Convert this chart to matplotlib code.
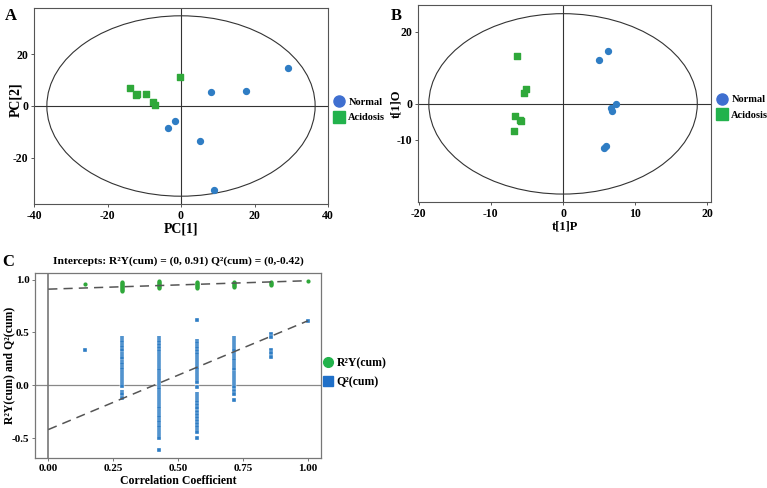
import numpy as np
import matplotlib.pyplot as plt
from matplotlib.patches import Ellipse
from matplotlib.lines import Line2D

plt.rcParams['font.family'] = ['Liberation Serif', 'DejaVu Serif']
plt.rcParams['font.weight'] = 'bold'
plt.rcParams['axes.labelweight'] = 'bold'
plt.rcParams['axes.unicode_minus'] = False

# panel A: PCA scores
pca_normal_x = [29.2, 8.2, 17.7, -1.5, -3.6, 5.1, 8.9]
pca_normal_y = [14.8, 5.2, 5.9, -5.7, -8.3, -13.5, -32.2]
pca_acid_x = [-0.2, -13.8, -12.3, -12.0, -9.5, -7.5, -7.2]
pca_acid_y = [11.2, 7.0, 4.2, 4.5, 4.6, 1.7, 0.4]
pca_ellipse = (36.5, 34.7)

# panel B: OPLS-DA scores
opls_normal_x = [6.2, 5.0, 7.3, 6.7, 6.8, 6.0, 5.7]
opls_normal_y = [14.7, 12.2, 0.0, -1.2, -2.1, -11.8, -12.1]
opls_acid_x = [-6.4, -5.2, -5.4, -6.7, -6.0, -5.8, -6.8]
opls_acid_y = [13.2, 4.0, 2.9, -3.5, -4.5, -4.8, -7.4]
opls_ellipse = (18.6, 25.0)

# panel C: permutation test
corr_levels = [1/7, 2/7, 3/7, 4/7, 5/7, 6/7, 1.0]
r2y_cols = [
    [0.96],
    [0.98, 0.97, 0.96, 0.95, 0.94, 0.93, 0.92, 0.91, 0.90, 0.89],
    [0.99, 0.98, 0.97, 0.96, 0.95, 0.94, 0.93, 0.92],
    [0.98, 0.97, 0.96, 0.95, 0.94, 0.93, 0.92],
    [0.98, 0.97, 0.96, 0.95, 0.94, 0.93],
    [0.98, 0.97, 0.96, 0.95],
    [0.99],
]
q2_cols = [
    [0.33],
    [0.45, 0.43, 0.41, 0.38, 0.36, 0.33, 0.30, 0.28, 0.26, 0.22, 0.20, 0.17,
     0.15, 0.13, 0.11, 0.09, 0.07, 0.05, 0.03, 0.01, -0.01, -0.06, -0.08, -0.12],
    [0.45, 0.43, 0.41, 0.38, 0.35, 0.32, 0.30, 0.28, 0.26, 0.24, 0.22, 0.20,
     0.18, 0.16, 0.14, 0.12, 0.10, 0.08, 0.06, 0.04, 0.02, 0.00, -0.02, -0.04,
     -0.06, -0.08, -0.10, -0.12, -0.14, -0.16, -0.18, -0.20, -0.22, -0.24,
     -0.26, -0.28, -0.30, -0.33, -0.35, -0.38, -0.40, -0.42, -0.44, -0.46,
     -0.48, -0.50, -0.61],
    [0.62, 0.42, 0.40, 0.37, 0.35, 0.32, 0.30, 0.27, 0.25, 0.23, 0.21, 0.19,
     0.17, 0.15, 0.13, 0.11, 0.09, 0.07, 0.05, 0.03, -0.02, -0.08, -0.10,
     -0.12, -0.14, -0.16, -0.19, -0.22, -0.25, -0.28, -0.31, -0.34, -0.37,
     -0.40, -0.42, -0.44, -0.50],
    [0.45, 0.43, 0.41, 0.39, 0.37, 0.35, 0.33, 0.30, 0.28, 0.26, 0.24, 0.21,
     0.19, 0.17, 0.15, 0.12, 0.10, 0.08, 0.06, 0.04, 0.02, 0.00, -0.02, -0.05,
     -0.08, -0.14],
    [0.49, 0.46, 0.33, 0.31, 0.27],
    [0.61],
]
r2y_line = (0.91, 0.99)
q2_line = (-0.42, 0.61)

blue = '#2f7dc4'
green = '#2fa83a'
blue_leg = '#3f6fd0'
green_leg = '#22b24c'

fig = plt.figure(figsize=(7.67, 4.88), dpi=100)


def score_panel(ax, nx, ny, gx, gy, ell, xlim, ylim):
    ax.add_patch(Ellipse((0, 0), 2*ell[0], 2*ell[1], fill=False,
                         ec='#333333', lw=0.8))
    ax.axhline(0, color='#333333', lw=0.8)
    ax.axvline(0, color='#333333', lw=0.8)
    ax.scatter(gx, gy, marker='s', s=20, color=green, zorder=3)
    ax.scatter(nx, ny, marker='o', s=18, color=blue, zorder=3)
    ax.set_xlim(xlim)
    ax.set_ylim(ylim)
    for sp in ax.spines.values():
        sp.set_color('#555555')
        sp.set_linewidth(0.8)
    ax.tick_params(labelsize=8.5, length=2.5, width=0.7, color='#555555', pad=1.5)
    handles = [Line2D([], [], marker='o', ls='', color=blue_leg, ms=8, label='Normal'),
               Line2D([], [], marker='s', ls='', color=green_leg, ms=8, label='Acidosis')]
    ax.legend(handles=handles, loc='center left', bbox_to_anchor=(1.0, 0.48),
              frameon=False, fontsize=7.5, handletextpad=0.35, borderpad=0.1,
              labelspacing=0.6, handlelength=1.0)


axA = fig.add_axes([34/767, 1-204/488, 294/767, 196/488])
score_panel(axA, pca_normal_x, pca_normal_y, pca_acid_x, pca_acid_y,
            pca_ellipse, (-40, 40), (-37.7, 37.7))
axA.set_xticks([-40, -20, 0, 20, 40])
axA.set_yticks([-20, 0, 20])
axA.set_xlabel('PC[1]', fontsize=10, labelpad=1)
axA.set_ylabel('PC[2]', fontsize=10)
axA.yaxis.set_label_coords(-12/294, 0.53)
fig.text(5/767, 1-16/488, 'A', fontsize=12, fontweight='bold', va='center')

axB = fig.add_axes([418/767, 1-202/488, 293/767, 197/488])
score_panel(axB, opls_normal_x, opls_normal_y, opls_acid_x, opls_acid_y,
            opls_ellipse, (-20.1, 20.5), (-27.2, 27.4))
axB.set_xticks([-20, -10, 0, 10, 20])
axB.set_yticks([-10, 0, 20])
axB.set_xlabel('t[1]P', fontsize=9, labelpad=1)
axB.set_ylabel('t[1]O', fontsize=9)
axB.yaxis.set_label_coords(-16/293, 0.5)
fig.text(391/767, 1-16/488, 'B', fontsize=12, fontweight='bold', va='center')

axC = fig.add_axes([35/767, 1-458/488, 286/767, 185/488])
axC.axhline(0, color='#888888', lw=0.9)
axC.axvline(0, color='#777777', lw=1.2)
for c, r2, q2 in zip(corr_levels, r2y_cols, q2_cols):
    axC.scatter([c]*len(q2), q2, marker='s', s=9, color=blue,
                edgecolor='white', lw=0.25, zorder=3)
    axC.scatter([c]*len(r2), r2, marker='o', s=9, color=green, lw=0, zorder=3)
axC.plot([0, 1], r2y_line, ls=(0, (6, 4)), color='#555555', lw=1.1, zorder=4)
axC.plot([0, 1], q2_line, ls=(0, (6, 4)), color='#555555', lw=1.1, zorder=4)
axC.set_xlim(-0.051, 1.051)
axC.set_ylim(-0.689, 1.063)
axC.set_xticks([0, 0.25, 0.5, 0.75, 1.0])
axC.set_xticklabels(['0.00', '0.25', '0.50', '0.75', '1.00'])
axC.set_yticks([-0.5, 0, 0.5, 1.0])
for sp in axC.spines.values():
    sp.set_color('#777777')
    sp.set_linewidth(0.9)
axC.tick_params(labelsize=8, length=2.5, width=0.7, color='#777777', pad=1.5)
axC.set_xlabel('Correlation Coefficient', fontsize=8.5, labelpad=2)
axC.set_ylabel('R²Y(cum) and Q²(cum)', fontsize=8.5)
axC.yaxis.set_label_coords(-20/286, 0.5)
axC.set_title('Intercepts: R²Y(cum) = (0, 0.91) Q²(cum) = (0,-0.42)',
              fontsize=8.2, fontweight='bold', pad=7)
hC = [Line2D([], [], marker='o', ls='', color=green_leg, ms=7, label='R²Y(cum)'),
      Line2D([], [], marker='s', ls='', color='#1f6fc8', ms=7, label='Q²(cum)')]
axC.legend(handles=hC, loc='center left', bbox_to_anchor=(0.98, 0.46),
           frameon=False, fontsize=8.5, handletextpad=0.2, borderpad=0.1,
           labelspacing=0.6, handlelength=1.0)
fig.text(2/767, 1-262/488, 'C', fontsize=12, fontweight='bold', va='center')

fig.savefig('out.png', dpi=100)
